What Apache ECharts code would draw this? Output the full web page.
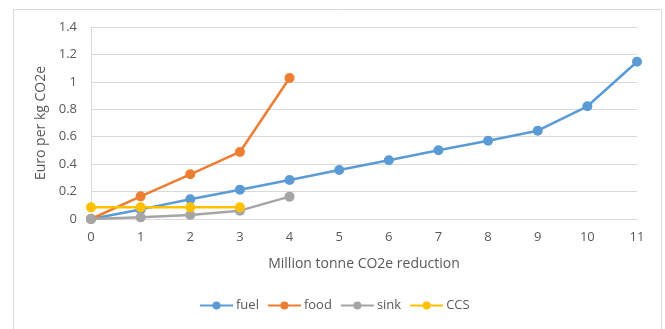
<!DOCTYPE html>
<html>
<head>
<meta charset="utf-8">
<script src="https://cdn.jsdelivr.net/npm/echarts@6/dist/echarts.min.js"></script>
<style>
  html, body { margin: 0; padding: 0; background: #fff; }
  #chart { width: 665px; height: 329px; }
</style>
</head>
<body>
<div id="chart"></div>
<script>
// Abatement cost curves: cost (EUR/kg CO2e) against cumulative reduction (Mt CO2e)
const reduction = [0, 1, 2, 3, 4, 5, 6, 7, 8, 9, 10, 11];
const fuel = [0, 0.07, 0.144, 0.214, 0.284, 0.357, 0.428, 0.501, 0.571, 0.644, 0.822, 1.147];
const food = [0, 0.165, 0.326, 0.489, 1.028];
const sink = [0, 0.012, 0.029, 0.061, 0.163];
const ccs = [0.085, 0.085, 0.085, 0.085];

const seriesNames = ['fuel', 'food', 'sink', 'CCS'];
const seriesValues = [fuel, food, sink, ccs];
const seriesColors = ['#5B9BD5', '#ED7D31', '#A5A5A5', '#FFC000'];

const font = '"Open Sans", "Noto Sans", sans-serif';
const textColor = '#595959';

const chart = echarts.init(document.getElementById('chart'), null, { renderer: 'canvas' });

chart.setOption({
  animation: false,
  backgroundColor: '#fff',
  textStyle: { fontFamily: font },
  graphic: [{
    type: 'rect',
    shape: { x: 13.5, y: 9.5, width: 648, height: 340 },
    style: { fill: 'none', stroke: '#D9D9D9', lineWidth: 1 },
    silent: true
  }],
  grid: { left: 91, right: 28, top: 27, bottom: 110, containLabel: false },
  legend: {
    data: seriesNames,
    top: 299,
    left: 199,
    padding: 0,
    itemWidth: 33,
    itemHeight: 10,
    itemGap: 8,
    textStyle: { color: textColor, fontSize: 13, fontFamily: font, padding: [0, 0, 0, -2] }
  },
  xAxis: {
    type: 'value',
    min: 0,
    max: 11,
    interval: 1,
    name: 'Million tonne CO2e reduction',
    nameLocation: 'middle',
    nameGap: 38,
    nameTextStyle: { color: textColor, fontSize: 14, fontFamily: font },
    axisLine: { show: true, lineStyle: { color: '#D9D9D9', width: 1 } },
    axisTick: { show: false },
    splitLine: { show: false },
    axisLabel: { color: textColor, fontSize: 13, margin: 12, fontFamily: font }
  },
  yAxis: {
    type: 'value',
    min: 0,
    max: 1.4,
    interval: 0.2,
    name: 'Euro per kg CO2e',
    nameLocation: 'middle',
    nameGap: 35,
    nameTextStyle: { color: textColor, fontSize: 14, fontFamily: font },
    axisLine: { show: true, lineStyle: { color: '#D9D9D9', width: 1 } },
    axisTick: { show: false },
    splitLine: { show: true, lineStyle: { color: '#D9D9D9', width: 1 } },
    axisLabel: { color: textColor, fontSize: 13, margin: 14, fontFamily: font }
  },
  series: seriesNames.map((name, i) => ({
    name: name,
    type: 'line',
    data: seriesValues[i].map((v, j) => [reduction[j], v]),
    symbol: 'circle',
    symbolSize: 10,
    lineStyle: { color: seriesColors[i], width: 2.5 },
    itemStyle: { color: seriesColors[i] },
    z: 2 + i
  }))
});
</script>
</body>
</html>
